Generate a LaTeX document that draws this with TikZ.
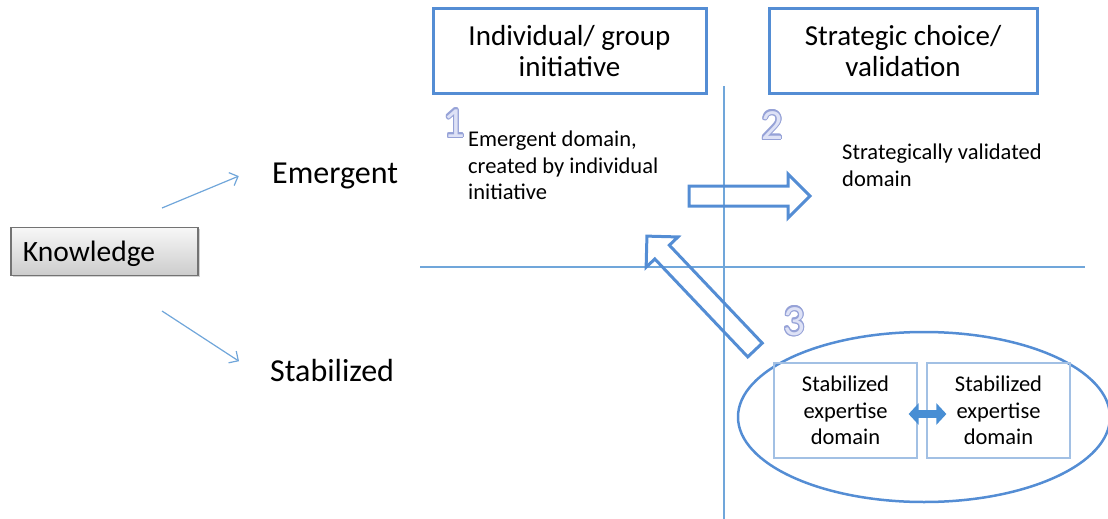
\documentclass[tikz,border=0pt]{standalone}
\usepackage{fontspec}
\setmainfont{Carlito}
\usepackage{contour}
\contourlength{1.1pt}
\usetikzlibrary{arrows.meta,shapes.geometric,shadows}
\definecolor{boxblue}{RGB}{84,141,212}
\definecolor{lineblue}{RGB}{112,166,218}
\definecolor{paleblue}{RGB}{162,192,228}
\definecolor{digitline}{RGB}{150,162,215}
\definecolor{digitfill}{RGB}{222,226,246}
\definecolor{arrowblue}{RGB}{72,142,212}
\newcommand{\outlinedigit}[1]{{\color{digitfill}\contour{digitline}{#1}}}
\tikzset{
  fatarrow/.pic={
    \draw[boxblue, line width=3pt, line join=miter]
      (0,-10) -- (#1-22,-10) -- (#1-22,-22) -- (#1,0) -- (#1-22,22) -- (#1-22,10) -- (0,10) -- cycle;
  }
}
\begin{document}
\begin{tikzpicture}[x=1pt,y=-1pt,
  header/.style={draw=boxblue, line width=3pt, minimum width=#1, minimum height=84pt, align=center, font=\fontsize{29}{31}\selectfont},
  rowlabel/.style={anchor=base west, inner sep=0pt, font=\fontsize{32}{36}\selectfont},
  domaintext/.style={anchor=north west, inner sep=0pt, align=left, font=\fontsize{22.5}{26.5}\selectfont},
  expertbox/.style={draw=paleblue, line width=1.2pt, minimum width=143pt, minimum height=95pt, align=center, font=\fontsize{22.5}{26.5}\selectfont},
  stepno/.style={anchor=base, inner sep=0pt, font=\fontsize{43}{43}\selectfont},
  thinarrow/.style={draw=lineblue, line width=1.2pt, -{Straight Barb[length=7pt,width=14pt]}},
  axis/.style={draw=lineblue, line width=1.2pt},
  exchange/.style={draw=arrowblue, line width=8pt, {Triangle[length=10pt,width=21pt]}-{Triangle[length=10pt,width=21pt]}, shorten <=-9pt, shorten >=-20pt}
]
\useasboundingbox (0,0) rectangle (1108,519);

% knowledge and its two kinds
\node[draw=black!55, line width=1.2pt, top color=black!3, bottom color=black!20,
  drop shadow={opacity=0.35, shadow xshift=1.5pt, shadow yshift=-1.5pt},
  minimum width=187pt, minimum height=48pt, inner xsep=12pt, text width=163pt, text depth=0pt, align=left,
  font=\fontsize{29.5}{32}\selectfont] (know) at (104.5,251.5) {Knowledge};
\node[rowlabel] (emerg) at (272,183) {Emergent};
\node[rowlabel] (stab) at (270,381) {Stabilized};
\coordinate (eTail) at (162,208);
\coordinate (sTail) at (162,311);
\draw[thinarrow, shorten >=36pt] (eTail) -- (emerg.north west);
\draw[thinarrow, shorten >=37pt] (sTail) -- (stab.south west);

% quadrant lines
\coordinate (vTop) at (724,86);
\coordinate (vBot) at (724,519);
\coordinate (hLeft) at (420,267);
\coordinate (hRight) at (1085,267);
\draw[axis] (vTop) -- (vBot);
\draw[axis] (hLeft) -- (hRight);

% column headers
\node[header=273pt] (initiative) at (569.5,51) {Individual/ group\\initiative};
\node[header=268pt] (strategy) at (903,51) {Strategic choice/\\validation};

% quadrants
\node[stepno] (n1) at (454,137) {\outlinedigit{1}};
\node[stepno] (n2) at (772,139) {\outlinedigit{2}};
\node[stepno] (n3) at (794,335) {\outlinedigit{3}};
\node[domaintext] (emdomain) at (468,131) {Emergent domain,\\created by individual\\initiative};
\node[domaintext] (valdomain) at (842,144) {Strategically validated\\domain};

% block arrows
\coordinate (validateTail) at (689,196);
\coordinate (renewTail) at (755,350);
\pic at (validateTail) {fatarrow=121};
\pic[rotate=133.5] at (renewTail) {fatarrow=157};

% stabilized domains
\node[ellipse, draw=boxblue, line width=2.5pt, minimum width=372pt, minimum height=170pt] (expertise) at (924,417) {};
\node[expertbox] (expA) at (845.5,410.5) {Stabilized\\expertise\\domain};
\node[expertbox] (expB) at (998.5,410.5) {Stabilized\\expertise\\domain};
\draw[exchange] ([yshift=-3.5pt]expA.east) -- ([yshift=-3.5pt]expB.west);
\end{tikzpicture}
\end{document}
